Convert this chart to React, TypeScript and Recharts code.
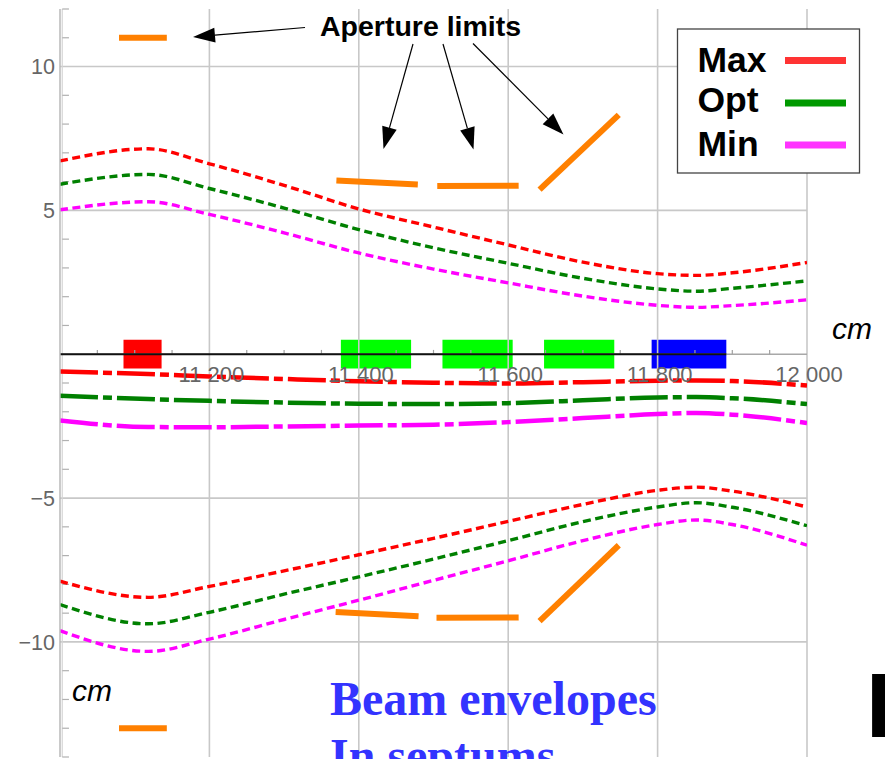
import { LineChart, Line, XAxis, YAxis, ReferenceLine, ReferenceArea, ReferenceDot } from "recharts";

const W = 885;
const H = 759;
const SANS = "'Liberation Sans', Arial, sans-serif";
const SERIF = "'Liberation Serif', 'Times New Roman', serif";

// position along the line, cm
const positions = [11000, 11118, 11200, 11300, 11400, 11500, 11600, 11700, 11800, 11852, 11900, 12000];

// envelope upper edges
const maxUpper = [6.72, 7.14, 6.62, 5.87, 5.05, 4.42, 3.8, 3.2, 2.8, 2.74, 2.83, 3.19];
const optUpper = [5.91, 6.25, 5.76, 5.08, 4.33, 3.7, 3.16, 2.64, 2.27, 2.19, 2.29, 2.55];
const minUpper = [5.02, 5.3, 4.86, 4.22, 3.52, 2.96, 2.48, 2.02, 1.7, 1.63, 1.69, 1.89];

// envelope lower edges
const maxLower = [-7.89, -8.45, -8.07, -7.53, -6.97, -6.4, -5.81, -5.22, -4.73, -4.62, -4.76, -5.31];
const optLower = [-8.7, -9.37, -8.97, -8.34, -7.74, -7.12, -6.48, -5.82, -5.31, -5.16, -5.32, -5.96];
const minLower = [-9.61, -10.33, -9.9, -9.22, -8.55, -7.86, -7.18, -6.48, -5.92, -5.76, -5.92, -6.64];

// beam centre
const maxCenter = [-0.6, -0.69, -0.77, -0.86, -0.94, -0.99, -1.02, -0.97, -0.92, -0.91, -0.93, -1.09];
const optCenter = [-1.44, -1.56, -1.62, -1.68, -1.72, -1.73, -1.7, -1.6, -1.5, -1.49, -1.53, -1.73];
const minCenter = [-2.3, -2.53, -2.54, -2.51, -2.48, -2.45, -2.36, -2.22, -2.08, -2.04, -2.1, -2.39];

// aperture limits: [x1, y1, x2, y2]
const apertures = [
  [11079, 11.0, 11143, 11.0],
  [11079, -13.0, 11143, -13.0],
  [11370, 6.04, 11479, 5.9],
  [11505, 5.85, 11614, 5.86],
  [11642, 5.72, 11748, 8.32],
  [11369, -8.96, 11480, -9.11],
  [11504, -9.16, 11614, -9.15],
  [11642, -9.28, 11748, -6.64],
];

// elements on the beamline: [from, to, colour]
const magnets: [number, number, string][] = [
  [11085, 11136, "#ff0000"],
  [11376, 11470, "#00ff00"],
  [11512, 11606, "#00ff00"],
  [11648, 11742, "#00ff00"],
  [11792, 11892, "#0000ff"],
];
const beamlineEnd = 11892;

const xGrid = [11200, 11400, 11600, 11800, 12000];
const xLabels = ["11 200", "11 400", "11 600", "11 800", "12 000"];
const xMinor = [11050, 11100, 11150, 11250, 11300, 11350, 11450, 11500, 11550, 11650, 11700, 11750, 11850, 11900, 11950];
const yGrid = [-10, -5, 5, 10];
const yMinor = [-14, -13, -12, -11, -9, -8, -7, -6, -4, -3, -2, -1, 1, 2, 3, 4, 6, 7, 8, 9, 11, 12];

const rows = positions.map((x, i) => ({
  x,
  maxUpper: maxUpper[i], optUpper: optUpper[i], minUpper: minUpper[i],
  maxLower: maxLower[i], optLower: optLower[i], minLower: minLower[i],
  maxCenter: maxCenter[i], optCenter: optCenter[i], minCenter: minCenter[i],
}));

const RED = "#ff0000";
const GREEN = "#008000";
const MAGENTA = "#ff00ff";
const ORANGE = "#ff8000";

const envelopes = [
  ["maxUpper", RED], ["optUpper", GREEN], ["minUpper", MAGENTA],
  ["maxLower", RED], ["optLower", GREEN], ["minLower", MAGENTA],
];
const centres = [["maxCenter", RED], ["optCenter", GREEN], ["minCenter", MAGENTA]];

const minus = (v: number) => (v < 0 ? `\u2212${Math.abs(v)}` : `${v}`);

function Arrow({ from, to }: { from: [number, number]; to: [number, number] }) {
  const [x1, y1] = from;
  const [x2, y2] = to;
  const len = Math.hypot(x2 - x1, y2 - y1);
  const ux = (x2 - x1) / len;
  const uy = (y2 - y1) / len;
  const hl = 22, hw = 7.5;
  const bx = x2 - ux * hl, by = y2 - uy * hl;
  return (
    <g>
      <line x1={x1} y1={y1} x2={bx} y2={by} stroke="#000" strokeWidth={1.2} />
      <polygon points={`${x2},${y2} ${bx - uy * hw},${by + ux * hw} ${bx + uy * hw},${by - ux * hw}`} fill="#000" />
    </g>
  );
}

function Overlay() {
  const legend = [["Max", "#ff3333", 71.5, 60.5], ["Opt", "#009900", 112, 103], ["Min", "#ff33ff", 155.5, 145]];
  return (
    <svg width={W} height={H} style={{ position: "absolute", left: 0, top: 0, pointerEvents: "none" }}>
      <text x={320} y={36} fontFamily={SANS} fontWeight="bold" fontSize={28.5} fill="#000">Aperture limits</text>
      <Arrow from={[305, 27.5]} to={[193, 37]} />
      <Arrow from={[413, 44]} to={[383.5, 149]} />
      <Arrow from={[443, 44]} to={[473.5, 149.5]} />
      <Arrow from={[473, 43.5]} to={[563.5, 134.5]} />

      <rect x={677.5} y={29} width={182} height={144} fill="#fff" stroke="#444" strokeWidth={1.3} />
      {legend.map(([t, c, by, ly]) => (
        <g key={t as string}>
          <text x={697.5} y={by as number} fontFamily={SANS} fontWeight="bold" fontSize={35.5} fill="#000">{t}</text>
          <line x1={785} x2={846} y1={ly as number} y2={ly as number} stroke={c as string} strokeWidth={7} />
        </g>
      ))}

      <text x={832} y={339} fontFamily={SANS} fontStyle="italic" fontSize={30} fill="#000">cm</text>
      <text x={72} y={701} fontFamily={SANS} fontStyle="italic" fontSize={30} fill="#000">cm</text>

      <text x={330} y={715} fontFamily={SERIF} fontWeight="bold" fontSize={48} fill="#3333ff">Beam envelopes</text>
      <text x={330} y={772} fontFamily={SERIF} fontWeight="bold" fontSize={48} fill="#3333ff">In septums</text>
      <text x={866} y={737} fontFamily={SANS} fontWeight="bold" fontSize={91} fill="#000">P</text>
    </svg>
  );
}

export default function App() {
  return (
    <div style={{ position: "absolute", left: 0, top: 0, width: W, height: H, overflow: "hidden", background: "#fff" }}>
      <LineChart width={W} height={H} data={rows} margin={{ top: 9, right: 78, bottom: 2, left: 0 }}>
        <XAxis type="number" dataKey="x" domain={[11000, 12000]} allowDataOverflow hide />
        <YAxis
          type="number"
          domain={[-14, 12]}
          allowDataOverflow
          ticks={yGrid}
          width={60}
          tickSize={3}
          tickMargin={2}
          tickLine={false}
          tickFormatter={minus}
          axisLine={{ stroke: "#b8b8b8", strokeWidth: 1.5 }}
          tick={{ fill: "#666", fontSize: 21.5, fontFamily: SANS }}
        />

        {xGrid.map((x) => (
          <ReferenceLine key={`gx${x}`} x={x} stroke="#c8c8c8" strokeWidth={1.6} />
        ))}
        {yGrid.map((y) => (
          <ReferenceLine key={`gy${y}`} y={y} stroke="#c8c8c8" strokeWidth={1.6} />
        ))}
        <ReferenceLine x={11003} stroke="#d4d4d4" strokeWidth={1.2} />
        {yMinor.map((y) => (
          <ReferenceLine key={`my${y}`} segment={[{ x: 11003, y }, { x: 11012, y }]} stroke="#b0b0b0" strokeWidth={1.2} />
        ))}

        {magnets.map(([a, b, c]) => (
          <ReferenceArea key={`m${a}`} x1={a} x2={b} y1={-0.5} y2={0.5} fill={c} fillOpacity={1} stroke="none" />
        ))}
        <ReferenceLine y={0} stroke="#a8a8a8" strokeWidth={1.6} />
        {xMinor.map((x) => (
          <ReferenceLine key={`mx${x}`} segment={[{ x, y: 0 }, { x, y: 0.15 }]} stroke="#a0a0a0" strokeWidth={1.2} />
        ))}
        <ReferenceLine segment={[{ x: 11000, y: 0 }, { x: beamlineEnd, y: 0 }]} stroke="#111" strokeWidth={2.2} />
        {xGrid.map((x, i) => (
          <ReferenceDot
            key={`lx${x}`}
            x={x}
            y={0}
            r={0}
            fill="none"
            stroke="none"
            label={{ value: xLabels[i], position: "bottom", offset: 12, fill: "#666", fontSize: 22, fontFamily: SANS, dx: 2 }}
          />
        ))}

        {envelopes.map(([k, c]) => (
          <Line key={k} dataKey={k} type="monotone" stroke={c} strokeWidth={3.4} strokeDasharray="8 4.5" dot={false} isAnimationActive={false} />
        ))}
        {centres.map(([k, c]) => (
          <Line key={k} dataKey={k} type="monotone" stroke={c} strokeWidth={4.5} strokeDasharray="38 5 9 5" dot={false} isAnimationActive={false} />
        ))}

        {apertures.map(([x1, y1, x2, y2], i) => (
          <Line
            key={`ap${i}`}
            data={[{ x: x1, ap: y1 }, { x: x2, ap: y2 }]}
            dataKey="ap"
            type="linear"
            stroke={ORANGE}
            strokeWidth={6}
            dot={false}
            isAnimationActive={false}
          />
        ))}
      </LineChart>
      <Overlay />
    </div>
  );
}
